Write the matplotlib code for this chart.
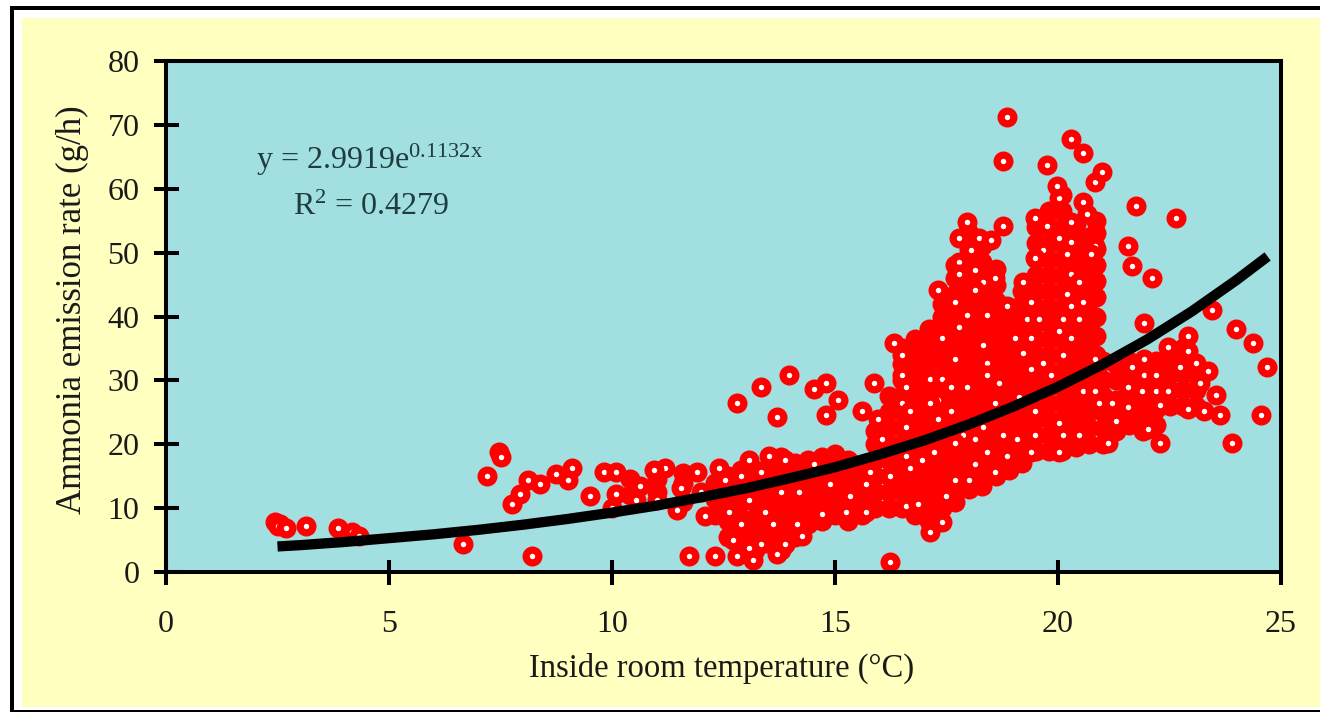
import matplotlib
matplotlib.use("Agg")
import matplotlib.pyplot as plt
from matplotlib.patches import Rectangle

plt.rcParams['font.family'] = ['Liberation Serif', 'DejaVu Serif']
plt.rcParams['mathtext.default'] = 'regular'
plt.rcParams['mathtext.fontset'] = 'custom'
plt.rcParams['mathtext.rm'] = 'Liberation Serif'

# trend line
trend_temp = [2.5, 3, 4, 5, 6, 7, 8, 9, 10, 11, 12, 13, 14, 15, 16, 17, 18, 19, 20, 21, 22, 23, 24, 24.7]
trend_rate = [4.0, 4.2, 4.7, 5.3, 5.9, 6.6, 7.4, 8.3, 9.3, 10.4, 11.7, 13.1, 14.7, 16.4, 18.4, 20.6, 23.1, 25.9,
              29.0, 32.5, 36.4, 40.8, 45.7, 49.4]

# low temperature end, up to about 14 C
low_temp = [2.45, 2.5, 2.69, 3.14, 3.86, 4.17, 4.33, 6.66, 8.21, 7.2, 7.47, 7.5, 8.12, 7.76, 7.94, 8.39, 8.74, 9.1,
            9.01, 9.51, 9.82, 10.09, 10.09, 10.0, 10.63, 10.54, 11.01, 11.19, 10.94, 11.55, 11.46, 11.73, 11.91,
            12.0, 12.09, 12.4, 12.53, 12.89, 13.07, 13.52, 13.88, 13.34, 12.62, 13.43, 13.07, 13.79, 12.89, 13.6,
            14.15, 12.71, 13.34, 13.88, 13.07, 12.31, 12.8, 13.16, 13.7, 12.8, 13.34, 13.7, 13.97]
low_rate = [7.8, 7.2, 6.9, 7.2, 6.9, 6.3, 5.6, 4.4, 2.5, 15.0, 18.8, 18.0, 14.4, 10.6, 12.2, 13.8, 15.3, 16.3,
            14.4, 11.9, 15.6, 15.6, 12.2, 10.0, 13.5, 11.3, 11.3, 16.3, 16.0, 13.1, 9.7, 2.5, 15.6,
            12.5, 8.8, 16.3, 14.4, 15.0, 17.5, 18.2, 17.5, 15.6, 9.4, 9.4, 11.3, 12.5, 7.5, 7.5,
            7.5, 5.0, 4.4, 4.4, 3.8, 2.5, 2.5, 1.9, 2.8, 26.4, 29.0, 24.3, 30.8]

# upper part of the cloud
high_temp = [18.86, 20.29, 20.56, 18.77, 19.75, 20.83, 20.98, 20.02, 19.98, 20.56, 21.75, 22.65, 17.96, 18.77,
             19.48, 20.65, 19.75, 20.29, 17.78, 18.23, 18.5, 20.02, 20.29, 20.83, 21.57, 18.05, 19.66, 20.2,
             20.74, 19.48, 17.78, 21.66, 18.14, 17.78, 20.29, 18.59, 22.1, 18.32, 19.22, 20.47, 17.31, 18.14,
             20.2, 17.69, 19.39, 20.56, 18.86, 20.29, 23.45, 17.96, 18.41, 19.3, 19.57, 20.11, 20.47, 21.93,
             17.78, 20.02, 23.99, 22.91, 17.4, 19.04, 19.39, 20.29]
high_rate = [71.2, 67.8, 65.6, 64.3, 63.7, 61.0, 62.6, 58.5, 60.5, 57.9, 57.3, 55.4, 54.8, 54.1,
             55.4, 56.0, 54.1, 54.8, 52.3, 52.3, 52.0, 52.3, 51.6, 51.0, 51.0, 50.4, 50.4, 49.8,
             49.8, 49.1, 48.5, 47.9, 47.3, 46.6, 46.6, 46.0, 46.0, 45.4, 45.4, 45.4, 44.1, 44.1,
             43.5, 42.3, 42.3, 42.3, 41.6, 41.6, 41.0, 40.2, 40.2, 39.6, 39.6, 39.6, 39.6, 39.0,
             38.3, 37.7, 38.0, 37.0, 36.6, 36.6, 36.6, 36.6]

# lower part of the cloud
mid_temp = [24.37, 16.32, 18.32, 22.47, 19.22, 22.91, 16.5, 20.11, 17.69, 21.93, 20.83, 18.41, 19.66, 23.09, 24.69,
            22.74, 21.66, 19.39, 23.36, 16.5, 18.41, 19.84, 21.93, 22.2, 17.13, 17.4, 14.8, 15.87, 18.68, 23.18,
            14.53, 16.6, 17.6, 17.96, 21.57, 20.56, 20.83, 21.88, 22.2, 22.47, 23.54, 19.13, 17.31, 15.07, 16.5,
            17.13, 18.59, 20.92, 21.21, 22.29, 21.57, 22.91, 23.27, 15.6, 16.68, 17.6, 19.48, 14.8, 23.63, 24.55,
            15.96, 17.31, 21.3, 20.02, 16.6, 18.32, 22.02, 16.05, 17.87, 18.77, 19.48, 20.11, 20.47, 18.14, 19.08,
            17.69, 21.12, 22.29, 23.9, 17.22, 18.41, 19.39, 20.02, 16.6, 18.86, 13.88, 16.95, 14.53, 18.14, 16.68,
            15.78, 18.59, 16.23, 17.69, 18.0, 14.89, 15.7, 13.79, 14.19, 15.34, 17.49, 16.6, 16.86, 15.25, 15.7,
            14.71, 14.26, 14.15, 17.4, 17.13, 14.26, 13.88, 16.23]
mid_rate = [35.8, 35.8, 35.5, 35.2, 34.3, 34.6, 34.0, 34.0, 33.3, 33.3, 33.3, 32.7, 32.7, 32.7, 32.1,
            32.1, 32.1, 31.8, 31.5, 30.8, 30.8, 30.8, 30.8, 30.8, 30.2, 30.2, 29.6, 29.6, 29.6, 29.6,
            28.6, 29.0, 29.0, 29.0, 29.0, 28.3, 28.3, 28.3, 28.3, 28.3, 27.7, 27.4, 27.0, 27.0, 26.4,
            26.4, 26.4, 26.4, 26.4, 26.1, 25.8, 25.5, 25.2, 25.2, 25.2, 25.2, 25.2, 24.6, 24.6, 24.6,
            23.9, 23.9, 23.6, 23.3, 22.7, 22.7, 22.4, 20.8, 21.4, 21.4, 21.4, 21.4, 21.4, 20.8, 20.8,
            20.2, 20.2, 20.2, 20.2, 18.8, 18.8, 18.8, 18.8, 18.2, 18.2, 17.5, 17.5, 16.9, 16.9, 16.3,
            15.6, 15.6, 15.0, 14.4, 14.4, 13.8, 13.8, 12.5, 12.5, 11.9, 11.9, 10.3, 10.6, 9.4, 9.4,
            9.1, 8.1, 7.5, 7.8, 6.3, 5.6, 4.4, 1.6]

# points buried in the solid part of the cloud, one list of rates per temperature
packed_temp = [2.55, 10.4, 11.0, 11.6, 12.3, 12.6, 12.9, 13.2, 13.5, 13.8, 14.1, 14.4, 14.7, 15.0, 15.3, 15.6, 15.9,
               16.2, 16.5, 16.8, 17.1, 17.4, 17.7, 18.0, 18.3, 18.6, 18.9, 19.2, 19.5, 19.8, 20.1, 20.4, 20.7, 20.85,
               21.0, 21.3, 21.6, 21.9, 22.2, 22.5, 22.8, 23.1]
packed_rate = [
    [7.5],
    [12, 14.5],
    [12.5, 14.5],
    [11, 14, 15.5],
    [9, 11.5, 14],
    [5.5, 8, 10.5, 13, 15],
    [3.5, 6, 8.5, 11, 13.5, 16],
    [3.5, 6, 8.5, 11, 13.5, 16],
    [4.5, 7, 9.5, 12, 14.5, 16.5],
    [3.5, 6, 8.5, 11, 13.5, 16, 18],
    [5.5, 8, 10.5, 13, 15.5, 17],
    [7.5, 10, 12.5, 15, 17.5],
    [8, 10.5, 13, 15.5, 18],
    [9, 11.5, 14, 16.5, 18.5],
    [8, 10.5, 13, 15.5, 17.5],
    [9, 11.5, 14, 16.5],
    [10, 12.5, 15, 17.5, 20, 22],
    [10, 12.5, 15, 17.5, 20, 22.5, 25, 27.5],
    [10, 12.5, 15, 17.5, 20, 22.5, 25, 27.5, 30, 32.5, 35],
    [9, 11.5, 14, 16.5, 19, 21.5, 24, 26.5, 29, 31.5, 34, 36.5],
    [8, 10.5, 13, 15.5, 18, 20.5, 23, 25.5, 28, 30.5, 33, 35.5, 38],
    [10, 12.5, 15, 17.5, 20, 22.5, 25, 27.5, 30, 32.5, 35, 37.5, 40, 42],
    [11, 13.5, 16, 18.5, 21, 23.5, 26, 28.5, 31, 33.5, 36, 38.5, 41, 43.5, 46, 48],
    [13, 15.5, 18, 20.5, 23, 25.5, 28, 30.5, 33, 35.5, 38, 40.5, 43, 45.5, 48, 50.5, 53],
    [13.5, 16, 18.5, 21, 23.5, 26, 28.5, 31, 33.5, 36, 38.5, 41, 43.5, 46, 48.5, 51],
    [15, 17.5, 20, 22.5, 25, 27.5, 30, 32.5, 35, 37.5, 40, 42.5, 45, 47.5],
    [16, 18.5, 21, 23.5, 26, 28.5, 31, 33.5, 36, 38.5, 41],
    [17, 19.5, 22, 24.5, 27, 29.5, 32, 34.5, 37, 39.5, 42, 44],
    [19, 21.5, 24, 26.5, 29, 31.5, 34, 36.5, 39, 41.5, 44, 46.5, 49, 51.5, 54],
    [19, 21.5, 24, 26.5, 29, 31.5, 34, 36.5, 39, 41.5, 44, 46.5, 49, 51.5, 54, 56.5],
    [19, 21.5, 24, 26.5, 29, 31.5, 34, 36.5, 39, 41.5, 44, 46.5, 49, 51.5, 54, 56.5, 59],
    [19.5, 22, 24.5, 27, 29.5, 32, 34.5, 37, 39.5, 42, 44.5, 47, 49.5, 52, 54.5],
    [20, 22.5, 25, 27.5, 30, 32.5, 35, 37.5, 40, 42.5, 45, 47.5, 50, 52.5],
    [31, 34, 37, 40, 43, 45.5, 48, 50.5, 53, 55],
    [20, 22.5, 25, 27.5, 30, 33],
    [22, 24.5, 27, 30, 32.5],
    [23, 25.5, 28, 30.5, 33],
    [22, 24.5, 27, 29.5, 32],
    [23, 25.5, 28, 30.5, 33],
    [26, 28.5, 31, 33.5],
    [26, 28.5, 31, 33.5, 35],
    [26, 28.5, 31],
]

x_ticks = [0, 5, 10, 15, 20, 25]
y_ticks = [0, 10, 20, 30, 40, 50, 60, 70, 80]

W, H = 1320, 712
fig = plt.figure(figsize=(W / 100, H / 100), dpi=100, facecolor='white')


def px_rect(x0, y0, x1, y1, color):
    fig.add_artist(Rectangle((x0 / W, 1 - y1 / H), (x1 - x0) / W, (y1 - y0) / H, transform=fig.transFigure,
                             facecolor=color, edgecolor='none', zorder=-5))


# black frame and yellow panel behind the axes
px_rect(10, 6, W, 10, 'black')
px_rect(10, 6, 14, H, 'black')
px_rect(14, 710, W, H, 'black')
px_rect(22, 18, W, 707, '#ffffc0')

ax = fig.add_axes([166 / W, 1 - 572 / H, 1115 / W, 511 / H], facecolor='#a2dfe0')
ax.set_xlim(0, 25)
ax.set_ylim(0, 80)

# buried points first, no visible centre
for t, rates in zip(packed_temp, packed_rate):
    ax.plot([t] * len(rates), rates, 'o', ms=12.4, mfc='#ff0000', mec='#ff0000', mew=2, clip_on=False)

for temps, rates in [(low_temp, low_rate), (mid_temp, mid_rate), (high_temp, high_rate)]:
    ax.plot(temps, rates, 'o', ms=9.2, mfc='white', mec='#ff0000', mew=5.2, ls='none', clip_on=False)

ax.plot(trend_temp, trend_rate, color='black', lw=7.4, solid_capstyle='butt', zorder=4)

ax.set_xticks(x_ticks)
ax.set_yticks(y_ticks)
ax.tick_params(axis='both', direction='inout', length=18, width=2.9, color='black', labelsize=23, labelcolor='#1a1a1a')
ax.tick_params(axis='x', pad=18)
ax.tick_params(axis='y', pad=10)
for s in ax.spines.values():
    s.set_linewidth(2.9)
    s.set_zorder(6)

fig.text(370 / W, 1 - 160 / H, 'y = 2.9919e$^{0.1132x}$', ha='center', va='center', fontsize=23, color='#1f3c3e')
fig.text(371 / W, 1 - 207 / H, 'R$^{2}$ = 0.4279', ha='center', va='center', fontsize=23, color='#1f3c3e')

fig.text(722 / W, 1 - 668 / H, 'Inside room temperature (°C)', ha='center', va='center', fontsize=23.5,
         color='#1a1a1a')
fig.text(72 / W, 1 - 310 / H, 'Ammonia emission rate (g/h)', ha='center', va='center', rotation=90, fontsize=25,
         color='#1a1a1a')

plt.savefig('out.png', dpi=100, facecolor='white')
